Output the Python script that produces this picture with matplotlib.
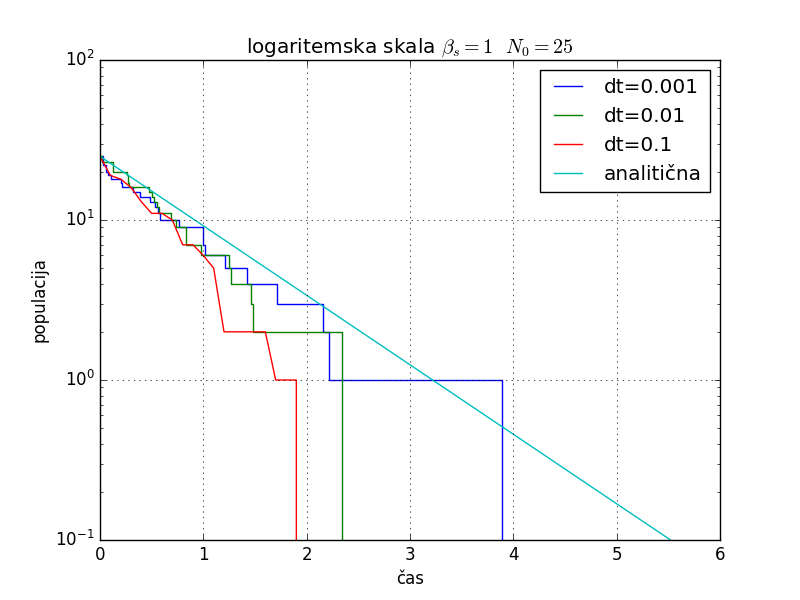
import numpy as np
import matplotlib
matplotlib.use('Agg')
import matplotlib.pyplot as plt

plt.style.use('classic')

# red, dt=0.1 (sampled each 0.1)
t_red = [0.0, 0.1, 0.2, 0.3, 0.4, 0.5, 0.6, 0.7, 0.8, 0.9, 1.0, 1.1, 1.2, 1.3, 1.4, 1.5, 1.6, 1.7, 1.8, 1.9, 2.0]
n_red = [25, 19, 18, 16, 13, 11, 11, 10, 7, 7, 6, 5, 2, 2, 2, 2, 2, 1, 1, 1, 0]

# green, dt=0.01 (step change points)
t_green = [0.0, 0.02, 0.125, 0.26, 0.27, 0.28, 0.47, 0.5, 0.52, 0.55, 0.57, 0.69, 0.74, 0.835, 0.975, 1.25, 1.27, 1.46, 1.485, 2.34, 2.4]
n_green = [25, 23, 20, 19, 17, 16, 15, 14, 13, 12, 11, 10, 9, 7, 6, 5, 4, 3, 2, 0, 0]

# blue, dt=0.001
t_blue = [0.0, 0.03, 0.06, 0.08, 0.11, 0.2, 0.21, 0.32, 0.39, 0.48, 0.53, 0.56, 0.58, 0.76, 0.997, 1.0, 1.02, 1.21, 1.42, 1.715, 2.16, 2.22, 3.89, 3.95]
n_blue = [25, 22, 20, 19, 18, 17, 16, 15, 14, 13, 12, 11, 10, 9, 8, 7, 6, 5, 4, 3, 2, 1, 0, 0]

N0 = 25
t_an = np.linspace(0, 6, 200)
n_an = N0 * np.exp(-t_an)

fig, ax = plt.subplots(figsize=(8, 6), dpi=100)
ax.set_yscale('log', nonpositive='clip')
ax.plot(t_blue, n_blue, 'b-', drawstyle='steps-post', label='dt=0.001')
ax.plot(t_green, n_green, 'g-', drawstyle='steps-post', label='dt=0.01')
ax.plot(t_red, n_red, 'r-', label='dt=0.1')
ax.plot(t_an, n_an, 'c-', label='analitična')
ax.set_xlim(0, 6)
ax.set_ylim(0.1, 100)
ax.grid(True)
ax.set_xlabel('čas')
ax.set_ylabel('populacija')
ax.set_title(r'logaritemska skala $\beta_s=1$  $N_0=25$')
ax.legend(loc='upper right')
fig.savefig('out.png')
